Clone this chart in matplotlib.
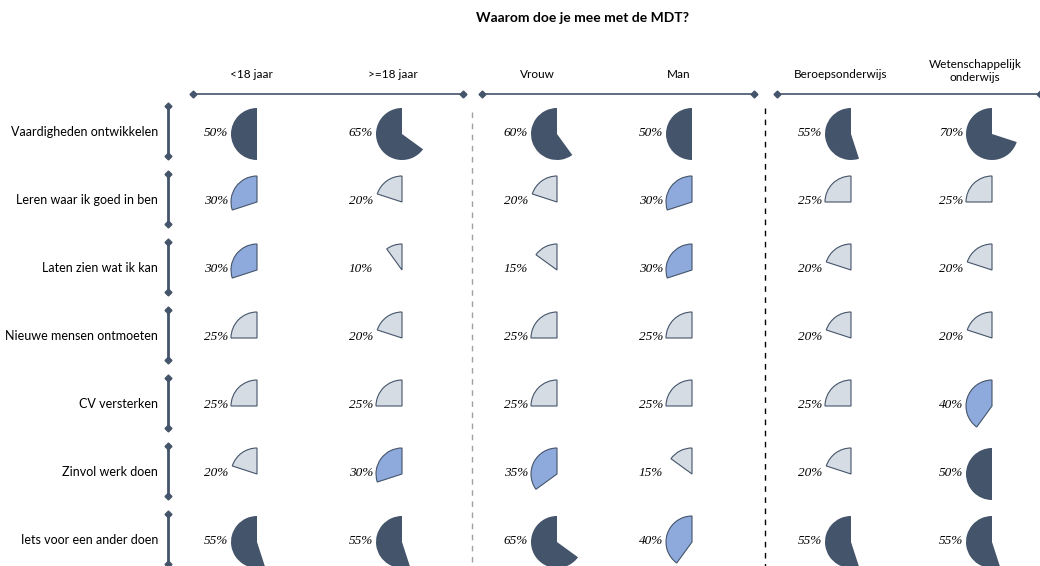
import matplotlib.pyplot as plt

title = "Waarom doe je mee met de MDT?"
groups = ["<18 jaar", ">=18 jaar", "Vrouw", "Man", "Beroepsonderwijs", "Wetenschappelijk\nonderwijs"]
reasons = ["Vaardigheden ontwikkelen", "Leren waar ik goed in ben", "Laten zien wat ik kan",
           "Nieuwe mensen ontmoeten", "CV versterken", "Zinvol werk doen", "Iets voor een ander doen"]

# percentages per reason, one value per group (columns in same order as groups)
vaardigheden = [50, 65, 60, 50, 55, 70]
leren = [30, 20, 20, 30, 25, 25]
laten_zien = [30, 10, 15, 30, 20, 20]
nieuwe_mensen = [25, 20, 25, 25, 20, 20]
cv = [25, 25, 25, 25, 25, 40]
zinvol = [20, 30, 35, 15, 20, 50]
iets_voor_ander = [55, 55, 65, 40, 55, 55]
values = [vaardigheden, leren, laten_zien, nieuwe_mensen, cv, zinvol, iets_voor_ander]

DARK = "#44546A"
MID = "#8EA9DB"
LIGHT = "#D6DCE4"


def wedge_color(v):
    if v >= 50:
        return DARK
    if v >= 30:
        return MID
    return LIGHT


# layout in pixel coordinates (figure is 1040 x 566)
col_x = [257, 402, 557, 692, 851, 992]
header_x = [251, 393, 537, 679, 841, 975]
row_y0, row_step, radius = 134, 68, 26

fig = plt.figure(figsize=(10.4, 5.66), dpi=100)
ax = fig.add_axes([0, 0, 1, 1])

for i, (reason, row) in enumerate(zip(reasons, values)):
    cy = row_y0 + i * row_step
    ax.text(158, cy - 2, reason, ha="right", va="center", fontsize=9, family="Lato", color="black")
    # bracket with diamonds
    top, bot = cy - 28, cy + 22
    ax.plot([168, 168], [top, bot], color=DARK, lw=2, solid_capstyle="butt")
    ax.plot([168, 168], [top, bot], ls="none", marker="D", ms=3.5, color=DARK)
    for j, v in enumerate(row):
        cx = col_x[j]
        c = wedge_color(v)
        ax.pie([v, 100 - v], center=(cx, cy), radius=radius, startangle=-90, counterclock=False,
               colors=[c, "none"], normalize=True,
               wedgeprops=dict(edgecolor=DARK if c != DARK else "none", linewidth=0.8), frame=True)
        # hide the edge of the invisible remainder
        ax.patches[-1].set_edgecolor("none")
        ax.text(cx - 29, cy - 1, f"{v}%", ha="right", va="center", fontsize=9.5,
                family="Liberation Serif", style="italic", color="black")

for j, g in enumerate(groups):
    two_lines = "\n" in g
    ax.text(header_x[j], 71 if two_lines else 75, g, ha="center", va="center",
            fontsize=8.5, family="Lato", linespacing=1.3)

# horizontal group rules with diamond ends
for x0, x1 in [(193, 463), (482, 754), (777, 1040)]:
    ax.plot([x0, x1], [94, 94], color=DARK, lw=1.2)
    ax.plot([x0, x1], [94, 94], ls="none", marker="D", ms=3.5, color=DARK)

ax.plot([472, 472], [112, 566], color="#A0A0A0", lw=1, ls=(0, (4, 4)))
ax.plot([765, 765], [108, 566], color="black", lw=1, ls=(0, (4, 4)))

ax.text(583, 18, title, ha="center", va="center", fontsize=10, fontweight="bold", family="Lato")

ax.set_xlim(0, 1040)
ax.set_ylim(566, 0)
ax.set_aspect("equal")
ax.axis("off")

fig.savefig("out.png", dpi=100, facecolor="white")
